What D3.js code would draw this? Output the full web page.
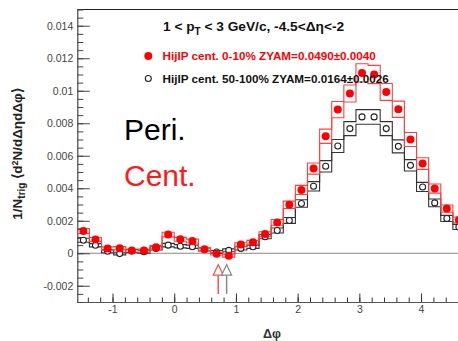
<!DOCTYPE html>
<html>
<head>
<meta charset="utf-8">
<script src="https://cdn.jsdelivr.net/npm/d3@7"></script>
<style>
  body { margin: 0; background: #fff; }
  svg { display: block; }
  text { font-family: "Liberation Sans", Arial, sans-serif; }
</style>
</head>
<body>
<div id="chart"></div>
<script>
// bin centres in delta phi (32 bins over 2 pi)
var dphi = [-1.4726, -1.2763, -1.0799, -0.8836, -0.6872, -0.4909, -0.2945, -0.0982,
            0.0982, 0.2945, 0.4909, 0.6872, 0.8836, 1.0799, 1.2763, 1.4726,
            1.6690, 1.8653, 2.0617, 2.2580, 2.4544, 2.6507, 2.8471, 3.0434,
            3.2398, 3.4361, 3.6325, 3.8288, 4.0252, 4.2215, 4.4179, 4.6142];
var binWidth = 0.19635;

// HijIP cent. 0-10%
var centVals = [0.00137, 0.00085, 0.00029, 0.00031, 0.00017, 0.00017, 0.00037, 0.00115,
                0.00086, 0.00075, 0.00024, -0.00003, -0.00015, 0.00054, 0.00068, 0.00118,
                0.00190, 0.00298, 0.00390, 0.00521, 0.00720, 0.00884, 0.00983, 0.01110,
                0.01100, 0.00993, 0.00886, 0.00700, 0.00552, 0.00398, 0.00275, 0.00205];
var centSys = [0.00015, 0.00012, 0.00010, 0.00010, 0.00009, 0.00009, 0.00010, 0.00014,
               0.00012, 0.00012, 0.00009, 0.00008, 0.00009, 0.00011, 0.00011, 0.00014,
               0.00018, 0.00023, 0.00028, 0.00034, 0.00044, 0.00050, 0.00052, 0.00056,
               0.00056, 0.00052, 0.00050, 0.00043, 0.00036, 0.00028, 0.00022, 0.00018];
// HijIP cent. 50-100%
var periVals = [0.00080, 0.00049, 0.00012, -0.00002, 0.00014, 0.00010, 0.00030, 0.00050,
                0.00043, 0.00040, 0.00023, 0.00008, 0.00018, 0.00030, 0.00040, 0.00102,
                0.00140, 0.00202, 0.00306, 0.00412, 0.00535, 0.00660, 0.00767, 0.00839,
                0.00839, 0.00767, 0.00658, 0.00541, 0.00408, 0.00310, 0.00214, 0.00162];
var periSys = [0.00012, 0.00010, 0.00009, 0.00008, 0.00009, 0.00009, 0.00010, 0.00011,
               0.00010, 0.00010, 0.00009, 0.00008, 0.00009, 0.00010, 0.00010, 0.00013,
               0.00015, 0.00018, 0.00023, 0.00029, 0.00035, 0.00040, 0.00043, 0.00045,
               0.00045, 0.00043, 0.00040, 0.00035, 0.00028, 0.00024, 0.00019, 0.00016];

// ZYAM minimum positions
var zyamPos = [{x: 0.713, color: "#ff5050"}, {x: 0.849, color: "#888"}];

var xMajor = [-1, 0, 1, 2, 3, 4];
var yMajor = [-0.002, 0, 0.002, 0.004, 0.006, 0.008, 0.01, 0.012, 0.014];

var W = 458, H = 341;
var svg = d3.select("#chart").append("svg")
    .attr("width", W).attr("height", H);

var x = d3.scaleLinear().domain([-Math.PI / 2, 3 * Math.PI / 2]).range([77.3, 465]);
var y = d3.scaleLinear().domain([-0.003, 0.015]).range([302, 9.5]);

// frame top + zero line
svg.append("line").attr("x1", x.range()[0]).attr("x2", W)
  .attr("y1", y(0.015)).attr("y2", y(0.015)).attr("stroke", "#222").attr("stroke-width", 1.2);
svg.append("line").attr("x1", x.range()[0]).attr("x2", W)
  .attr("y1", y(0)).attr("y2", y(0)).attr("stroke", "#888").attr("stroke-width", 1);

// x axis
var fmt = function(d) { return String(+d.toFixed(3)); };
var xMinor = d3.range(-1.4, 4.7, 0.2).map(function(d) { return +d.toFixed(1); });
svg.append("g").attr("transform", "translate(0," + y(-0.003) + ")")
  .call(d3.axisBottom(x).tickValues(xMinor).tickFormat("").tickSize(-4.5).tickSizeOuter(0))
  .call(function(g) { g.selectAll("line").attr("stroke", "#333"); g.select(".domain").attr("stroke", "#555"); });
svg.append("g").attr("transform", "translate(0," + y(-0.003) + ")")
  .call(d3.axisBottom(x).tickValues(xMajor).tickFormat(fmt).tickSize(-8.5).tickSizeOuter(0).tickPadding(4))
  .call(function(g) {
    g.select(".domain").remove();
    g.selectAll("line").attr("stroke", "#333");
    g.selectAll("text").attr("font-size", 10.5).attr("fill", "#444");
  });

// y axis
var yMinor = d3.range(-0.003, 0.01501, 0.0005);
svg.append("g").attr("transform", "translate(" + x.range()[0] + ",0)")
  .call(d3.axisLeft(y).tickValues(yMinor).tickFormat("").tickSize(-6).tickSizeOuter(0))
  .call(function(g) { g.selectAll("line").attr("stroke", "#444"); g.select(".domain").attr("stroke", "#444").attr("stroke-width", 1.2); });
svg.append("g").attr("transform", "translate(" + x.range()[0] + ",0)")
  .call(d3.axisLeft(y).tickValues(yMajor).tickFormat(fmt).tickSize(-12.5).tickSizeOuter(0).tickPadding(4))
  .call(function(g) {
    g.select(".domain").remove();
    g.selectAll("line").attr("stroke", "#444");
    g.selectAll("text").attr("font-size", 10.5).attr("fill", "#444");
  });

// systematic bands drawn as upper/lower step histograms
var step = d3.line().curve(d3.curveStepAfter)
  .x(function(d) { return x(d[0]); })
  .y(function(d) { return y(d[1]); });
function band(vals, sys, sign, color) {
  var pts = vals.map(function(v, i) { return [dphi[i] - binWidth / 2, v + sign * sys[i]]; });
  var last = vals.length - 1;
  pts.push([dphi[last] + binWidth / 2, vals[last] + sign * sys[last]]);
  svg.append("path").attr("d", step(pts))
    .attr("fill", "none").attr("stroke", color).attr("stroke-width", 1.1);
}
band(periVals, periSys, 1, "#333");
band(periVals, periSys, -1, "#333");
band(centVals, centSys, 1, "#ff4040");
band(centVals, centSys, -1, "#ff4040");

// points
svg.append("g").selectAll("circle").data(periVals).enter().append("circle")
  .attr("cx", function(d, i) { return x(dphi[i]); })
  .attr("cy", function(d) { return y(d); })
  .attr("r", 3).attr("fill", "#fff").attr("stroke", "#222").attr("stroke-width", 1.1);
svg.append("g").selectAll("circle").data(centVals).enter().append("circle")
  .attr("cx", function(d, i) { return x(dphi[i]); })
  .attr("cy", function(d) { return y(d); })
  .attr("r", 4).attr("fill", "#ff0000");

// ZYAM arrows
zyamPos.forEach(function(a) {
  var cx = x(a.x);
  svg.append("line").attr("x1", cx).attr("x2", cx)
    .attr("y1", y(-0.00135)).attr("y2", y(-0.0025))
    .attr("stroke", a.color).attr("stroke-width", 1.5);
  svg.append("path")
    .attr("d", "M" + cx + "," + y(-0.0007) + "L" + (cx + 5) + "," + y(-0.00135) +
               "L" + (cx - 5) + "," + y(-0.00135) + "Z")
    .attr("fill", "#fff").attr("stroke", a.color).attr("stroke-width", 1.2);
});

// title + legend
var title = svg.append("text").attr("x", 163).attr("y", 31)
  .attr("font-size", 13.7).attr("font-weight", "bold").attr("fill", "#111");
title.append("tspan").text("1 < p");
title.append("tspan").attr("font-size", 10).attr("dy", 4).text("T");
title.append("tspan").attr("dy", -4).text(" < 3 GeV/c, -4.5<\u0394\u03b7<-2");

svg.append("circle").attr("cx", 148.3).attr("cy", 56).attr("r", 4).attr("fill", "#ff0000");
svg.append("text").attr("x", 162.5).attr("y", 59.5).attr("font-size", 11.7).attr("font-weight", "bold")
  .attr("fill", "#ff0000").text("HijIP cent. 0-10% ZYAM=0.0490\u00b10.0040");
svg.append("circle").attr("cx", 148.3).attr("cy", 78.5).attr("r", 3)
  .attr("fill", "#fff").attr("stroke", "#222").attr("stroke-width", 1.1);
svg.append("text").attr("x", 162.5).attr("y", 83).attr("font-size", 11.7).attr("font-weight", "bold")
  .attr("fill", "#111").text("HijIP cent. 50-100% ZYAM=0.0164\u00b10.0026");

// big annotations
svg.append("text").attr("x", 124).attr("y", 140).attr("font-family", "'Open Sans', Lato, sans-serif")
  .attr("font-size", 30).attr("fill", "#000").text("Peri.");
svg.append("text").attr("x", 124).attr("y", 186).attr("font-family", "'Open Sans', Lato, sans-serif")
  .attr("font-size", 30).attr("fill", "#ff1a1a").text("Cent.");

// axis titles
svg.append("text").attr("x", 281).attr("y", 338).attr("text-anchor", "end")
  .attr("font-size", 12.5).attr("font-weight", "bold").attr("fill", "#333").text("\u0394\u03c6");

var yl = svg.append("text").attr("transform", "translate(22,154) rotate(-90)")
  .attr("text-anchor", "middle").attr("font-size", 13.5).attr("font-weight", "bold").attr("fill", "#222");
yl.append("tspan").text("1/N");
yl.append("tspan").attr("font-size", 10).attr("dy", 3).text("trig");
yl.append("tspan").attr("dy", -3).text(" \u27e8d");
yl.append("tspan").attr("font-size", 9).attr("dy", -4).text("2");
yl.append("tspan").attr("dy", 4).text("N/d\u0394\u03b7d\u0394\u03c6\u27e9");
</script>
</body>
</html>
